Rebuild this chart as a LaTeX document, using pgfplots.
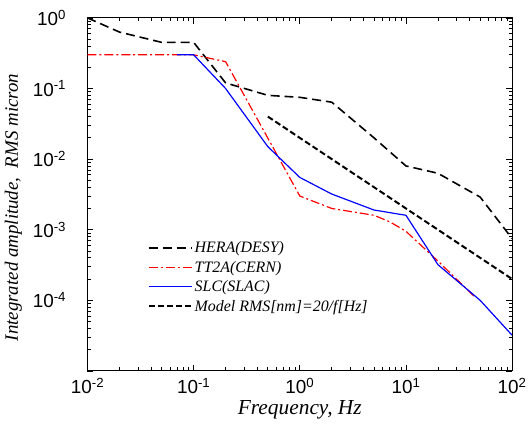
\documentclass[border=0pt]{standalone}
\usepackage{fontspec}
\setmainfont{Liberation Serif}
\newfontfamily\arial{Liberation Sans}
\usepackage{pgfplots}
\pgfplotsset{compat=1.18}
\begin{document}
\begin{tikzpicture}
\begin{axis}[
  scale only axis,
  width=427pt, height=355pt,
  xmode=log, ymode=log,
  xmin=1e-2, xmax=1e2, ymin=1e-5, ymax=1,
  xtick={1e-2,1e-1,1,1e1,1e2},
  xticklabels={10\textsuperscript{-2},10\textsuperscript{-1},10\textsuperscript{0},10\textsuperscript{1},10\textsuperscript{2}},
  ytick={1e-5,1e-4,1e-3,1e-2,1e-1,1},
  yticklabels={,10\textsuperscript{-4},10\textsuperscript{-3},10\textsuperscript{-2},10\textsuperscript{-1},10\textsuperscript{0}},
  xtick pos=both, ytick pos=both,
  xticklabel pos=bottom, yticklabel pos=left,
  tick align=inside,
  major tick length=6pt, minor tick length=3.5pt,
  tick style={black, line width=0.8pt},
  axis line style={line width=1pt},
  ticklabel style={font=\fontsize{19}{20}\selectfont\arial},
  yticklabel style={xshift=-18pt},
  xticklabel style={yshift=-4pt},
  xlabel={Frequency, Hz},
  ylabel={Integrated amplitude,\ \ RMS micron},
  xlabel style={font=\fontsize{21.5}{24}\selectfont\itshape},
  ylabel style={font=\fontsize{19}{22}\selectfont\itshape, at={(ticklabel cs:0.463)}},
  ylabel shift=4pt,
  legend style={at={(0.135,0.378)}, anchor=north west, draw=none, fill=none,
    font=\fontsize{16}{18}\selectfont\itshape, row sep=3pt},
  legend cell align=left,
  legend image code/.code={\path (0pt,0pt) -- (43pt,0pt); \draw[#1] (0pt,0pt) -- (38pt,0pt);},
]
\addplot[black, line width=1.6pt, dash pattern=on 9pt off 5pt] coordinates {
  (0.01,1) (0.02,0.63) (0.05,0.45) (0.1,0.45) (0.2,0.12) (0.5,0.08)
  (1,0.075) (2,0.064) (5,0.02) (10,0.008) (20,0.0063) (50,0.0029) (100,0.00075)};
\addplot[red, line width=1.2pt, dash pattern=on 9pt off 3pt on 2pt off 3pt] coordinates {
  (0.01,0.3) (0.1,0.3) (0.2,0.24) (1,0.003) (2,0.002) (5,0.0016) (7,0.0013)
  (10,0.00095) (20,0.00036) (45,0.00011)};
\addplot[blue, line width=1.2pt] coordinates {
  (0.07,0.3) (0.1,0.3) (0.2,0.1) (0.5,0.015) (1,0.0055) (2,0.0032) (5,0.0019)
  (10,0.0016) (20,0.00032) (50,0.0001) (100,0.000032)};
\addplot[black, line width=2pt, dash pattern=on 6pt off 3pt] coordinates {
  (0.5,0.04) (100,0.0002)};
\legend{HERA(DESY), TT2A(CERN), SLC(SLAC), Model RMS[nm]=20/f[Hz]}
\end{axis}
\pgfresetboundingbox
\useasboundingbox (-88pt,-64pt) rectangle (444pt,373pt);
\end{tikzpicture}
\end{document}
